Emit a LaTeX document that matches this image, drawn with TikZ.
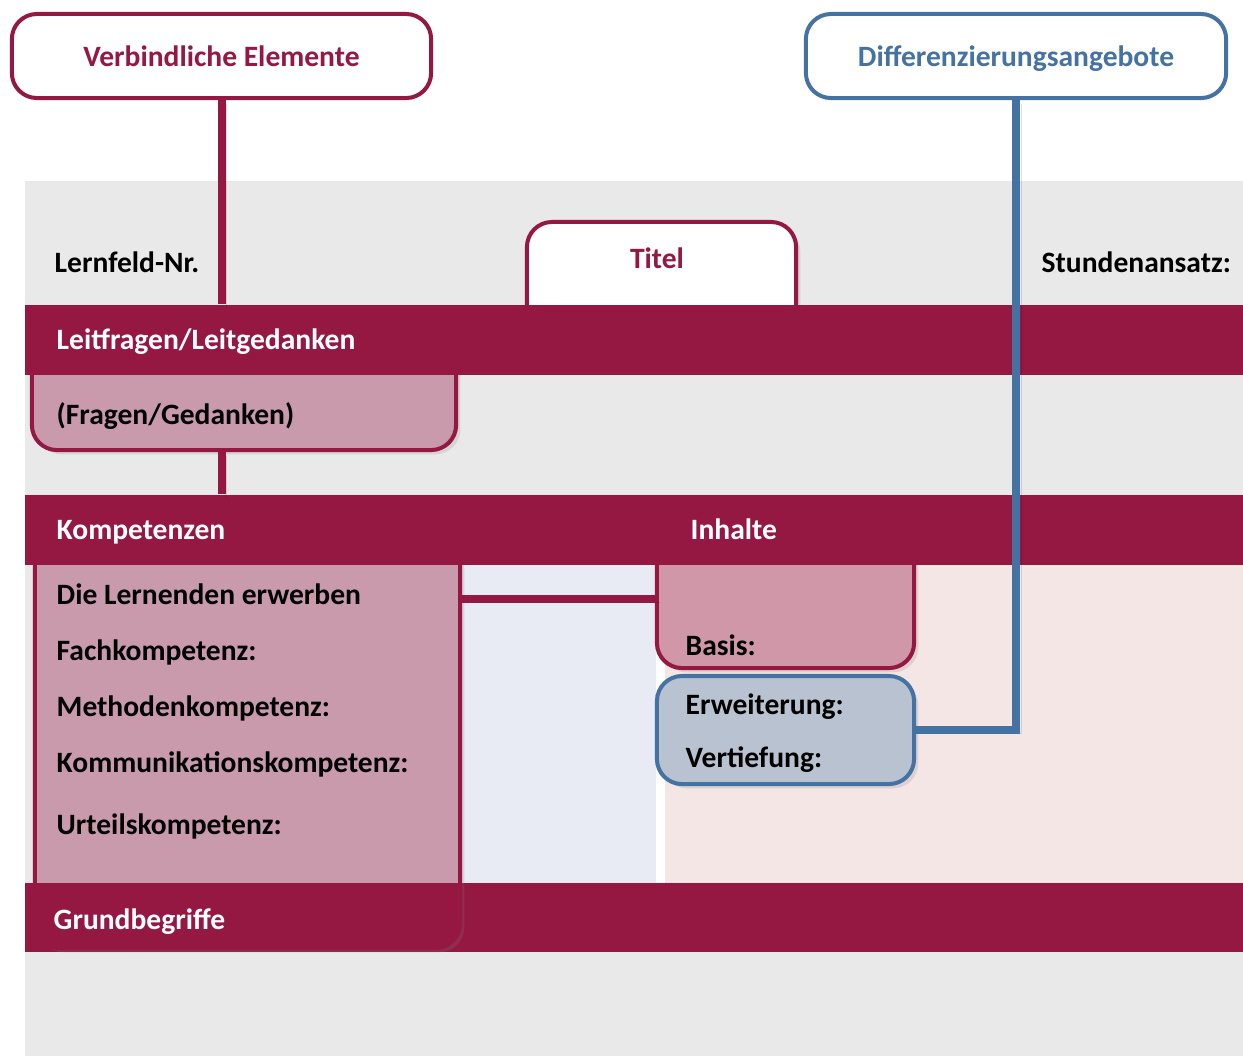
\documentclass[tikz,border=0pt]{standalone}
\usepackage{fontspec}
\setmainfont{Carlito}
\usepackage{tikz}
\usetikzlibrary{shadows}

\definecolor{weinrot}{HTML}{951842}
\definecolor{blau}{HTML}{4472A2}
\definecolor{grau}{HTML}{E9E9E9}
\definecolor{hellblau}{HTML}{E8EBF3}
\definecolor{hellrosa}{HTML}{F3E6E5}
\definecolor{pinkbox}{HTML}{C999AC}
\definecolor{basisrosa}{HTML}{CF97A7}
\definecolor{graublau}{HTML}{B9C2D0}

\tikzset{
  box/.style={draw=weinrot, line width=0.04cm, rounded corners=0.25cm, inner sep=0pt},
  kopfbox/.style={box, fill=white, minimum width=4.2cm, minimum height=0.84cm, text height=7pt, text depth=0.8pt},
  balken/.style={fill=weinrot, minimum width=12.18cm, minimum height=0.7cm, inner sep=0pt},
  txt/.style={anchor=base west, inner sep=0pt},
  linienschatten/.style={preaction={draw=black, opacity=0.12, transform canvas={xshift=1.5pt, yshift=-1pt}}},
  rotlinie/.style={draw=weinrot, line width=0.08cm, linienschatten},
  blaulinie/.style={draw=blau, line width=0.08cm, linienschatten},
  schatten/.style={drop shadow={shadow xshift=1.2pt, shadow yshift=-1.2pt, opacity=0.2}}
}

\begin{document}
\begin{tikzpicture}[x=0.01cm, y=-0.01cm, font=\fontsize{8.4}{10}\selectfont\bfseries]
    \useasboundingbox (0,0) rectangle (1243,1056);

    % background areas
    \fill[grau] (25,181) rectangle (1243,1056);
    \fill[hellblau] (460,565) rectangle (656,883);
    \fill[white] (656,565) rectangle (665,883);
    \fill[hellrosa] (665,565) rectangle (1243,883);

    % lower bar
    \node[balken, minimum height=0.69cm] (grund) at (634,917.5) {};

    % top boxes
    \node[kopfbox, minimum width=4.19cm, text=weinrot] (verb) at (221.5,56) {Verbindliche Elemente};
    \node[kopfbox, draw=blau, text=blau] (diff) at (1016,56) {Differenzierungsangebote};

    % Titel box
    \node[box, fill=white, minimum width=2.69cm, minimum height=1.08cm, schatten] (titel) at (661.5,276) {};

    % Fragen box
    \node[box, fill=pinkbox, minimum width=4.24cm, minimum height=1.05cm, schatten] (fragen) at (244,397.5) {};

    % Kompetenzen box
    \node[box, fill=weinrot, minimum width=4.25cm, minimum height=4.08cm, schatten] (komp) at (247.5,744) {};
    \fill[pinkbox] (37,565) rectangle (458,883);

    % Inhalte boxes
    \node[box, fill=basisrosa, minimum width=2.57cm, minimum height=1.28cm, schatten] (basis) at (785.5,604) {};
    \node[box, draw=blau, fill=graublau, minimum width=2.57cm, minimum height=1.08cm, schatten] (vert) at (785.5,730) {};

    % bars
    \node[balken] (leit) at (634,340) {};
    \node[balken] (komph) at (634,530) {};

    % connectors
    \draw[rotlinie] (verb.south) -- (verb.south |- leit.north);
    \draw[rotlinie] (fragen.south -| verb.south) -- (verb.south |- komph.north);
    \draw[rotlinie] (komp.east |- 0,599) -- (basis.west |- 0,599);
    \draw[blaulinie] (vert.east) -| (diff.south);

    % texts
    \node[txt] (lfnr) at (54,272) {Lernfeld-Nr.};
    \node[anchor=base, inner sep=0pt, text=weinrot] (titeltxt) at (657,268) {Titel};
    \node[txt] (std) at (1041,272) {Stundenansatz:};
    \node[txt, text=white] (leittxt) at (56,349) {Leitfragen/Leitgedanken};
    \node[txt] (fragentxt) at (56,424) {(Fragen/Gedanken)};
    \node[txt, text=white] (komptxt) at (56,539) {Kompetenzen};
    \node[txt, text=white] (inhtxt) at (690,539) {Inhalte};
    \node[txt] (lern) at (56,604) {Die Lernenden erwerben};
    \node[txt] (fach) at (56,660) {Fachkompetenz:};
    \node[txt] (meth) at (56,716) {Methodenkompetenz:};
    \node[txt] (komm) at (56,772) {Kommunikationskompetenz:};
    \node[txt] (urt) at (56,834) {Urteilskompetenz:};
    \node[txt] (basistxt) at (685,655) {Basis:};
    \node[txt] (erw) at (685,714) {Erweiterung:};
    \node[txt] (vertief) at (685,767) {Vertiefung:};
    \node[txt, text=white] (grundtxt) at (53,929) {Grundbegriffe};
\end{tikzpicture}
\end{document}
